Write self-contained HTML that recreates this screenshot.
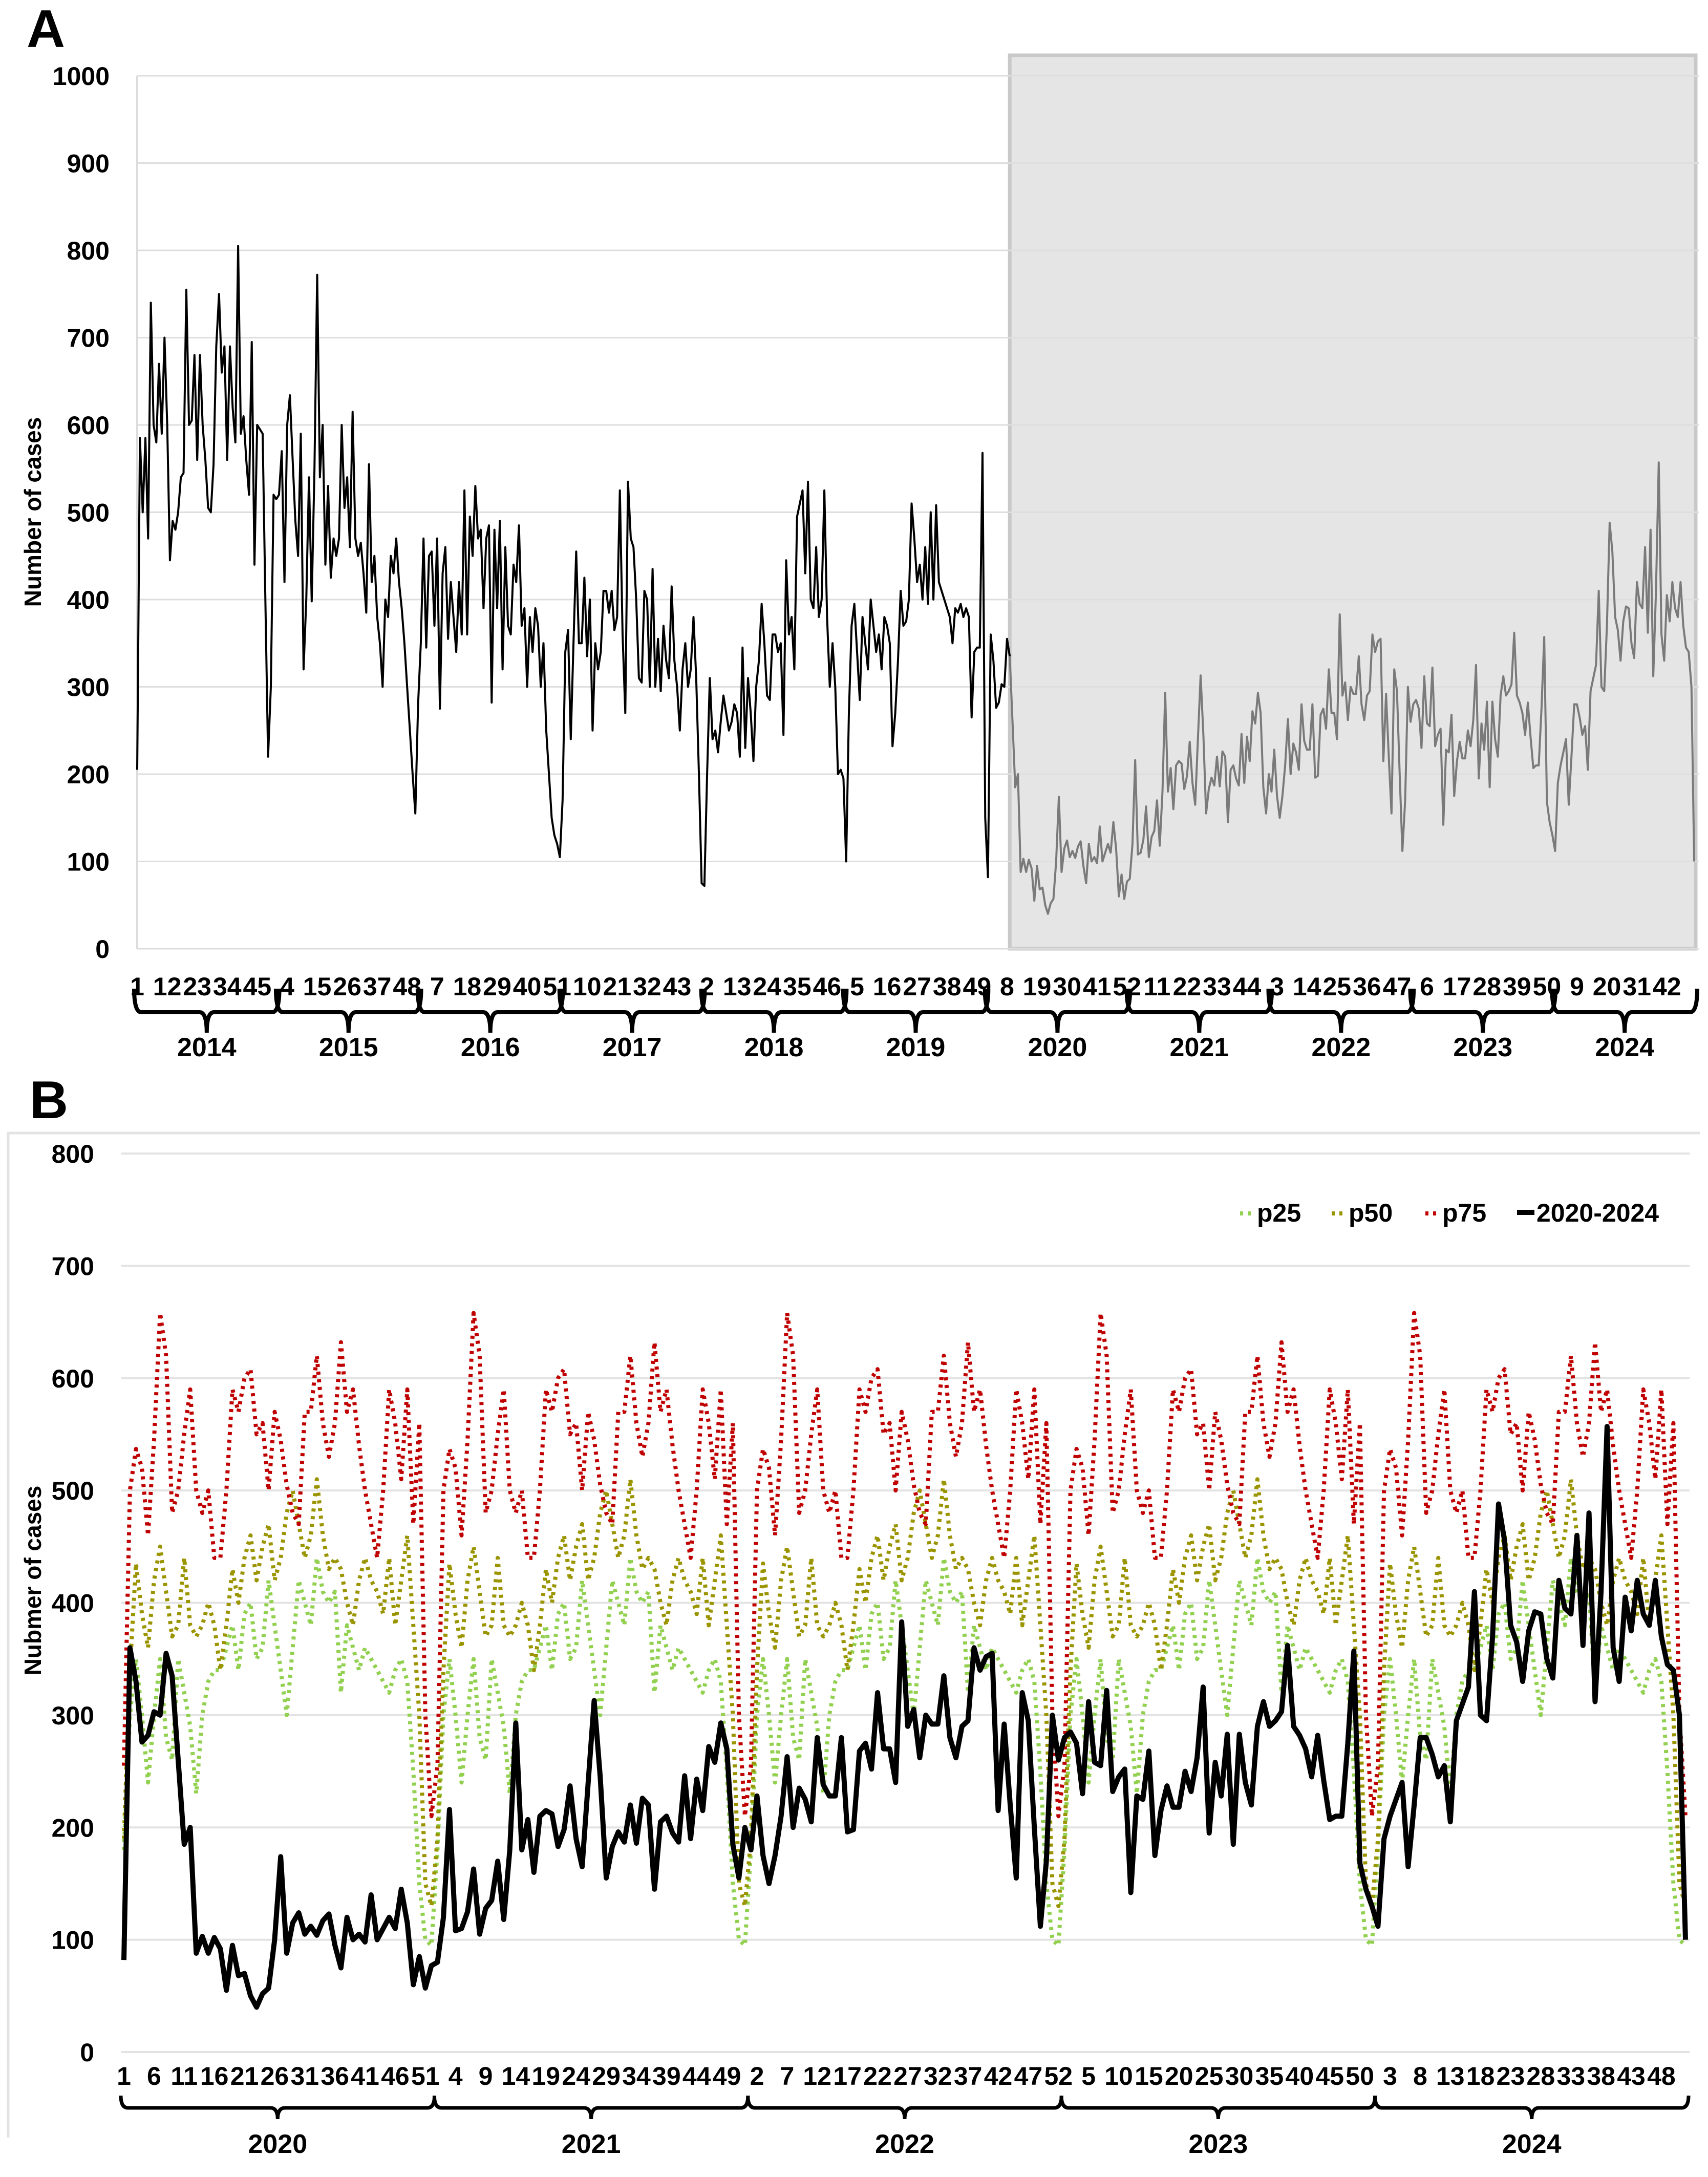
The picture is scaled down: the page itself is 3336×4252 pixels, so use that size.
<!DOCTYPE html>
<html><head><meta charset="utf-8"><title>Weekly cases chart</title>
<style>
html,body{margin:0;padding:0;background:#fff;}
svg{display:block;font-family:"Liberation Sans",Arial,sans-serif;}
</style></head>
<body>
<svg id="chart" width="3336" height="4252" viewBox="0 0 3336 4252" xmlns="http://www.w3.org/2000/svg">
<rect x="0" y="0" width="3336" height="4252" fill="#fff"/>
<g id="panelA"></g>
<g id="panelB"></g>
</svg>
<script>
// ---------- DATA ----------
const yearsA = [2014,2015,2016,2017,2018,2019,2020,2021,2022,2023,2024];
const yearsB = [2020,2021,2022,2023,2024];
const ticksA = [0,100,200,300,400,500,600,700,800,900,1000];
const ticksB = [0,100,200,300,400,500,600,700,800];
const cases2014 = [205,585,500,585,470,740,600,580,670,590,700,600,445,490,480,500,540,545,755,600,605,680,560,680,600,560,505,500,555,690,750,660,690,560,690,620,580,805,590,610,560,520,695,440,600,595,590,400,220,300,520,515];
const cases2015 = [520,570,420,600,634,560,490,450,590,320,400,540,398,550,772,540,600,440,530,425,470,450,470,600,505,540,460,615,470,450,465,430,385,555,420,450,380,350,300,400,380,450,430,470,420,390,350,300,250,200,155,280];
const cases2016 = [350,470,345,450,455,370,470,275,430,460,355,420,380,340,420,360,525,360,495,450,530,470,480,390,470,485,282,480,390,490,320,460,370,360,440,420,485,370,390,300,380,340,390,370,300,350,250,200,150,130,120,105];
const cases2017 = [170,340,365,240,350,455,350,350,425,335,400,250,350,320,340,410,410,385,410,365,380,525,360,270,535,470,460,400,310,305,410,400,300,435,300,355,295,370,330,310,415,330,300,250,320,350,300,320,380,310,200,75];
const cases2018 = [72,200,310,240,250,225,260,290,270,250,260,280,270,220,345,230,310,270,215,300,330,395,350,290,285,360,360,340,350,245,445,360,380,320,495,510,525,430,535,400,390,460,380,400,525,380,300,350,300,200,205,195];
const cases2019 = [100,270,370,395,340,285,380,350,320,400,370,340,360,320,380,370,350,232,270,330,410,370,375,400,510,470,420,440,400,460,395,500,400,508,420,410,400,390,380,350,390,385,395,380,390,380,265,340,345,345,568,150];
const cases2020 = [82,360,330,276,282,303,300,355,335,260,185,200,88,103,88,102,92,55,95,68,70,50,40,52,57,100,174,88,115,124,105,112,104,117,123,95,75,120,100,105,98,140,100,110,120,110,145,115,60,85,57,77];
const cases2021 = [80,120,216,108,110,125,163,105,128,135,170,118,180,293,180,207,160,210,215,212,183,198,237,190,165,240,313,245,155,183,196,187,220,186,226,220,145,205,210,195,187,246,190,243,215,272,258,293,270,185,155,200];
const cases2022 = [180,228,175,150,175,210,263,200,235,225,205,280,238,228,228,280,196,198,268,275,252,320,270,270,240,383,290,305,262,300,292,292,335,280,262,290,295,360,340,352,355,215,292,220,155,320,295,200,112,170,300,260];
const cases2023 = [280,285,275,230,312,258,255,322,232,245,252,142,228,225,268,175,215,237,218,218,250,232,262,325,195,258,228,283,185,283,240,220,290,312,290,295,303,362,290,282,270,245,282,242,207,210,210,275,357,168,145,130];
const cases2024 = [112,190,210,225,240,165,220,280,280,265,245,255,205,295,310,325,410,300,295,370,488,455,380,365,330,375,392,390,350,333,420,395,390,460,362,480,312,410,557,360,330,405,375,420,390,380,420,370,345,340,300,100];
const p25 = [180,300,350,300,240,300,350,280,260,350,320,290,230,300,330,340,340,360,380,340,390,400,350,360,420,380,340,300,360,420,400,380,440,410,400,410,320,380,360,340,360,350,340,330,320,340,350,330,250,150,100,95];
const p50 = [190,340,435,390,360,420,450,410,370,380,440,380,370,380,400,380,340,380,430,400,440,460,420,450,470,420,440,480,500,470,440,460,510,460,430,440,430,400,380,420,440,420,410,390,440,380,420,460,380,300,150,130];
const p75 = [255,500,537,520,460,545,658,620,480,500,550,590,500,480,500,440,440,500,590,570,600,608,550,560,500,570,545,505,480,470,570,570,620,560,530,560,632,570,590,540,500,470,440,500,590,560,510,590,470,560,300,210];
const grayStartWeek = 8;
const weekLabelStepA = 11;
const weekLabelStepB = 5;

// ---------- HELPERS ----------
const NS = "http://www.w3.org/2000/svg";
function mk(tag, attrs, parent){
  const e = document.createElementNS(NS, tag);
  for (const k in attrs) e.setAttribute(k, attrs[k]);
  parent.appendChild(e);
  return e;
}
function txt(str, x, y, size, anchor, parent, weight){
  const t = mk('text', {x:x, y:y, 'font-size':size, 'text-anchor':anchor, 'font-weight':weight||'bold', fill:'#000'}, parent);
  t.textContent = str;
  return t;
}
function bracePath(xs, xe, top, bot, notch){
  const xc = (xs+xe)/2, r = 14;
  return `M${xs},${top} Q${xs},${bot} ${xs+r},${bot} L${xc-r},${bot} Q${xc},${bot} ${xc},${notch} Q${xc},${bot} ${xc+r},${bot} L${xe-r},${bot} Q${xe},${bot} ${xe},${top}`;
}

// ---------- PANEL A ----------
const gA = document.getElementById('panelA');
const histA = [].concat(cases2014,cases2015,cases2016,cases2017,cases2018,cases2019);
const recent = [].concat(cases2020,cases2021,cases2022,cases2023,cases2024);
const allA = histA.concat(recent);
const A = {x0:268, x1:3309, y0:1853, y1:148, vmax:1000};
const xA = i => A.x0 + i*(A.x1-A.x0)/(allA.length-1);
const yA = v => A.y0 - v/A.vmax*(A.y0-A.y1);

let lbl = txt('A', 52, 92, 104, 'start', gA);



const grayStart = histA.length + grayStartWeek;
let shade = mk('rect', {x:xA(grayStart), y:108, width:3312-xA(grayStart), height:A.y0-108, fill:'#e5e5e5', stroke:'#c9c9c9', 'stroke-width':7}, gA);



ticksA.forEach(t => {
  const y = yA(t);
  const gl = mk('line', {x1:A.x0, x2:3318, y1:y, y2:y, stroke:'#dedede', 'stroke-width':3}, gA);
  
  
  const tl = txt(String(t), 214, y+18, 50, 'end', gA);
  
  
});
let axA = mk('line', {x1:A.x0, x2:A.x0, y1:A.y1, y2:A.y0, stroke:'#dcdcdc', 'stroke-width':4}, gA);



let ptsBlack = [];
for (let i=0;i<=grayStart;i++) ptsBlack.push(xA(i).toFixed(1)+','+yA(allA[i]).toFixed(1));
let lineBlack = mk('polyline', {points:ptsBlack.join(' '), fill:'none', stroke:'#000', 'stroke-width':4, 'stroke-linejoin':'round'}, gA);


let ptsGray = [];
for (let i=grayStart;i<allA.length;i++) ptsGray.push(xA(i).toFixed(1)+','+yA(allA[i]).toFixed(1));
let lineGray = mk('polyline', {points:ptsGray.join(' '), fill:'none', stroke:'#7a7a7a', 'stroke-width':4, 'stroke-linejoin':'round'}, gA);



for (let i=0;i<allA.length;i+=weekLabelStepA){
  const wl = txt(String(i%52+1), xA(i), 1944, 50, 'middle', gA);
  
  
}
yearsA.forEach((yr, k) => {
  const xs = xA(k*52)-6, xe = xA(k*52+51)+6;
  const br = mk('path', {d:bracePath(xs, xe, 1931, 1977, 2017), fill:'none', stroke:'#000', 'stroke-width':8}, gA);
  
  
  const yl = txt(String(yr), (xs+xe)/2, 2063, 52, 'middle', gA);
  
  
});
let ttlA = txt('Number of cases', 0, 0, 46, 'middle', gA);
ttlA.setAttribute('transform', 'translate(80,1000) rotate(-90)');



// ---------- PANEL B ----------
const gB = document.getElementById('panelB');
const B = {x0:242, x1:3292, y0:4008, y1:2253, vmax:800};
const nB = recent.length;
const xB = i => B.x0 + i*(B.x1-B.x0)/(nB-1);
const yB = v => B.y0 - v/B.vmax*(B.y0-B.y1);

let lblB = txt('B', 58, 2184, 104, 'start', gB);


let frame = mk('path', {d:'M16,4175 L16,2213 L3320,2213', fill:'none', stroke:'#e3e3e3', 'stroke-width':5}, gB);



ticksB.forEach(t => {
  const y = yB(t);
  const gl = mk('line', {x1:237, x2:3300, y1:y, y2:y, stroke:'#e3e3e3', 'stroke-width':4}, gB);
  
  
  const tl = txt(String(t), 184, y+18, 50, 'end', gB);
  
  
});

function dotted(arr, color, name){
  const pts = [];
  for (let i=0;i<nB;i++) pts.push(xB(i).toFixed(1)+','+yB(arr[i%arr.length]).toFixed(1));
  const pl = mk('polyline', {points:pts.join(' '), fill:'none', stroke:color, 'stroke-width':8, 'stroke-dasharray':'6 9', 'stroke-linejoin':'round'}, gB);
  
  
}
dotted(p25, '#92d050', 'series-p25');
dotted(p50, '#9a9400', 'series-p50');
dotted(p75, '#c00000', 'series-p75');
const ptsB = [];
for (let i=0;i<nB;i++) ptsB.push(xB(i).toFixed(1)+','+yB(recent[i]).toFixed(1));
let lineB = mk('polyline', {points:ptsB.join(' '), fill:'none', stroke:'#000', 'stroke-width':10, 'stroke-linejoin':'round'}, gB);



for (let i=0;i<nB;i+=weekLabelStepB){
  const wl = txt(String(i%52+1), xB(i), 4072, 50, 'middle', gB);
  
  
}
yearsB.forEach((yr, k) => {
  const xs = xB(k*52)-6, xe = xB(k*52+51)+6;
  const br = mk('path', {d:bracePath(xs, xe, 4093, 4117, 4139), fill:'none', stroke:'#000', 'stroke-width':7}, gB);
  
  
  const yl = txt(String(yr), (xs+xe)/2, 4205, 52, 'middle', gB);
  
  
});
let ttlB = txt('Nubmer of cases', 0, 0, 46, 'middle', gB);
ttlB.setAttribute('transform', 'translate(80,3087) rotate(-90)');



// legend
const legendNames = ['p25','p50','p75','2020-2024'];
const legendColors = ['#92d050','#9a9400','#c00000','#000'];
const legendX = [2422,2601,2784,2963];
legendNames.forEach((n, k) => {
  const g = mk('g', {}, gB);
  
  
  if (k < 3) {
    mk('line', {x1:legendX[k], x2:legendX[k]+28, y1:2370, y2:2370, stroke:legendColors[k], 'stroke-width':8, 'stroke-dasharray':'6 9'}, g);
  } else {
    mk('line', {x1:legendX[k], x2:legendX[k]+34, y1:2368, y2:2368, stroke:'#000', 'stroke-width':10}, g);
  }
  const t = txt(n, legendX[k] + (k<3?33:38), 2386, 50, 'start', g);
  
  
});
</script>
</body></html>
